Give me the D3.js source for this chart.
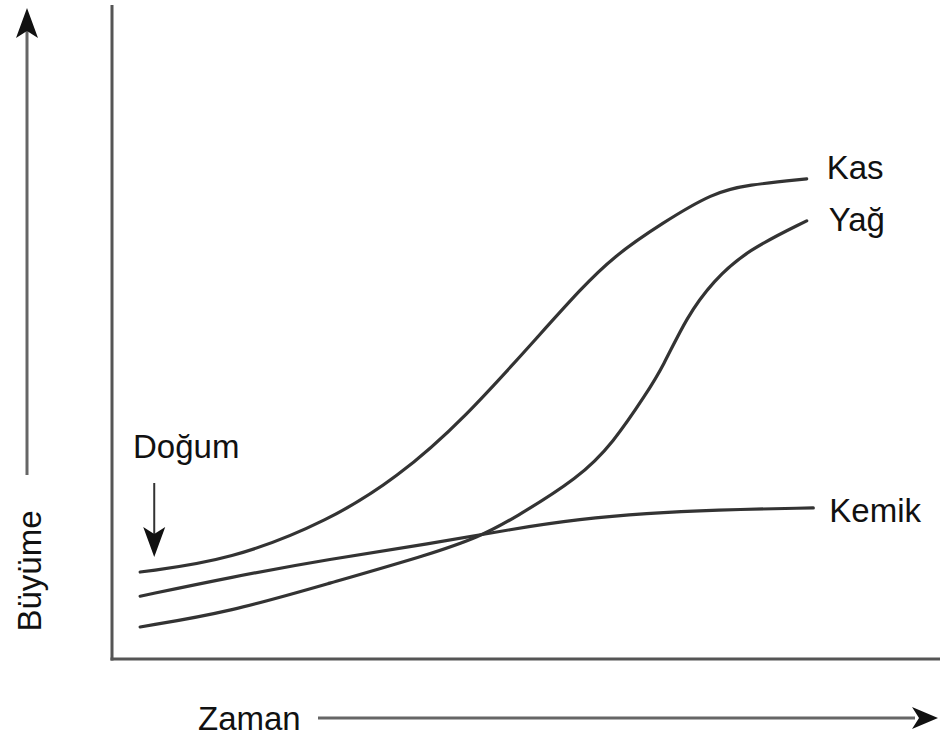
<!DOCTYPE html>
<html>
<head>
<meta charset="utf-8">
<script src="https://cdn.jsdelivr.net/npm/d3@7"></script>
<style>
  html, body { margin: 0; padding: 0; background: #fff; }
  svg { display: block; }
  text { font-family: "Liberation Sans", Arial, sans-serif; fill: #111; }
</style>
</head>
<body>
<svg id="chart" width="940" height="736"></svg>
<script>
// ---- data (time 0..100, growth 0..100) ----
const seriesNames = ["Kas", "Yağ", "Kemik"];
const kasTime    = [3.4, 14.3, 26.3, 34.4, 42.4, 52.5, 56.5, 60.5, 66.5, 72.6, 76.7, 83.9];
const kasGrowth  = [13.3, 15.1, 21.2, 27.7, 36.5, 50.8, 56.4, 61.5, 66.7, 71.3, 72.5, 73.4];
const yagTime    = [3.4, 14.3, 26.3, 38.4, 44.4, 48.4, 56.5, 60.5, 64.6, 66.5, 69.4, 72.6, 76.7, 83.9];
const yagGrowth  = [4.9, 7.2, 11.6, 16.0, 18.7, 21.4, 27.8, 33.0, 40.7, 44.6, 52.3, 57.8, 62.5, 67.0];
const kemikTime  = [3.4, 14.3, 26.3, 38.4, 48.4, 56.5, 64.6, 72.6, 84.7];
const kemikGrowth= [9.6, 12.5, 15.3, 17.6, 19.9, 21.4, 22.3, 22.8, 23.1];
const birthTime = 5.1;
const axisTitleX = "Zaman";
const axisTitleY = "Büyüme";
const birthLabel = "Doğum";

const svg = d3.select("#chart");
const x = d3.scaleLinear().domain([0, 100]).range([112, 940]);
const y = d3.scaleLinear().domain([0, 100]).range([659, 5]);

const series = [
  {name: seriesNames[0], t: kasTime, g: kasGrowth, dy: -9, dx: 20},
  {name: seriesNames[1], t: yagTime, g: yagGrowth, dy: 1, dx: 22},
  {name: seriesNames[2], t: kemikTime, g: kemikGrowth, dy: 5, dx: 16}
];

const FONT = 33;

// axes (plain frame lines, no ticks)
svg.append("line")
  .attr("x1", x(0)).attr("x2", x(0))
  .attr("y1", y(100)).attr("y2", y(0) + 1.5)
  .attr("stroke", "#555").attr("stroke-width", 3);
svg.append("line")
  .attr("x1", x(0) - 1.5).attr("x2", x(100))
  .attr("y1", y(0)).attr("y2", y(0))
  .attr("stroke", "#555").attr("stroke-width", 3);

// curves
const line = d3.line()
  .x(d => x(d[0])).y(d => y(d[1]))
  .curve(d3.curveBasis);

series.forEach(s => {
  const pts = s.t.map((t, i) => [t, s.g[i]]);
  svg.append("path")
    .datum(pts)
    .attr("d", line)
    .attr("fill", "none")
    .attr("stroke", "#333")
    .attr("stroke-width", 3.2)
    .attr("stroke-linecap", "round");
  const last = pts[pts.length - 1];
  svg.append("text")
    .attr("x", x(last[0]) + s.dx)
    .attr("y", y(last[1]) + s.dy)
    .attr("dominant-baseline", "middle")
    .attr("font-size", FONT)
    .text(s.name);
});

const arrowHead = (tipX, tipY, dir, len, half) => {
  if (dir === "up") return `M${tipX},${tipY} L${tipX - half},${tipY + len} L${tipX},${tipY + len - 7} L${tipX + half},${tipY + len} Z`;
  if (dir === "down") return `M${tipX},${tipY} L${tipX - half},${tipY - len} L${tipX},${tipY - len + 7} L${tipX + half},${tipY - len} Z`;
  return `M${tipX},${tipY} L${tipX - len},${tipY - half} L${tipX - len + 7},${tipY} L${tipX - len},${tipY + half} Z`;
};

// Y axis title + arrow
svg.append("line")
  .attr("x1", 27).attr("x2", 27).attr("y1", 30).attr("y2", 475)
  .attr("stroke", "#666").attr("stroke-width", 3);
svg.append("path").attr("d", arrowHead(27, 8, "up", 30, 11)).attr("fill", "#111");
svg.append("text")
  .attr("transform", "translate(41,571) rotate(-90)")
  .attr("text-anchor", "middle")
  .attr("font-size", FONT)
  .text(axisTitleY);

// X axis title + arrow
svg.append("text")
  .attr("x", 198).attr("y", 730)
  .attr("font-size", FONT)
  .text(axisTitleX);
svg.append("line")
  .attr("x1", 318).attr("x2", 915).attr("y1", 718).attr("y2", 718)
  .attr("stroke", "#666").attr("stroke-width", 3);
svg.append("path").attr("d", arrowHead(938, 718, "right", 26, 11)).attr("fill", "#111");

// Birth annotation
svg.append("text")
  .attr("x", 133).attr("y", 458)
  .attr("font-size", FONT)
  .text(birthLabel);
svg.append("line")
  .attr("x1", x(birthTime)).attr("x2", x(birthTime))
  .attr("y1", 483).attr("y2", 535)
  .attr("stroke", "#333").attr("stroke-width", 2);
svg.append("path").attr("d", arrowHead(x(birthTime), 557, "down", 30, 11)).attr("fill", "#111");
</script>
</body>
</html>
